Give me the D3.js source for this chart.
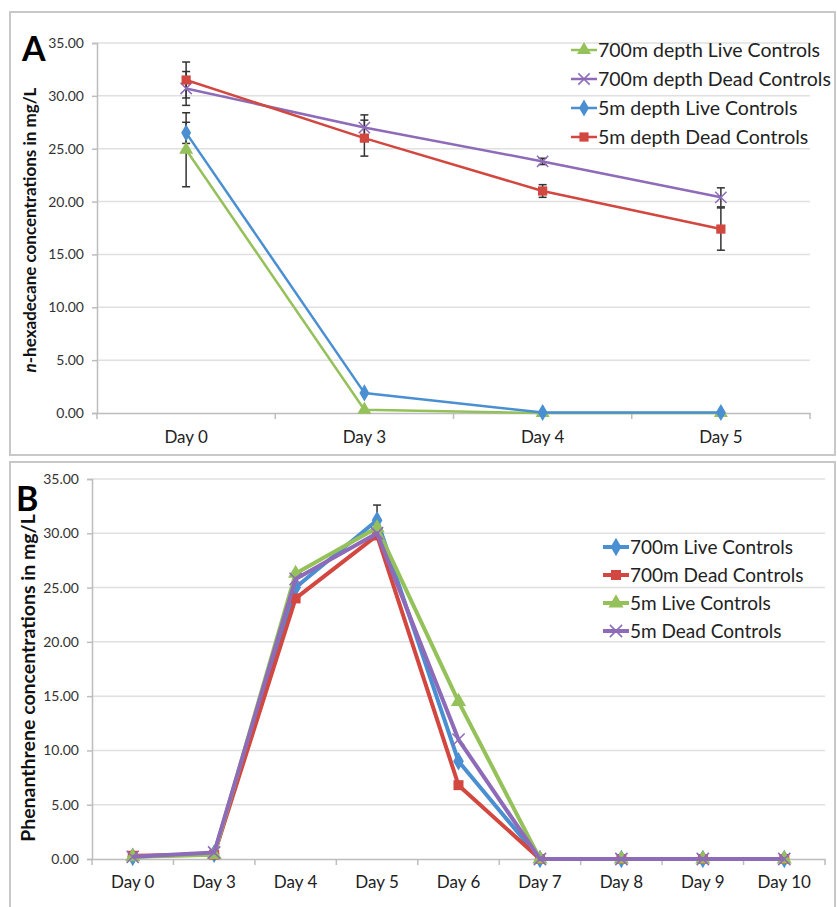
<!DOCTYPE html>
<html>
<head>
  <meta charset="utf-8">
  <script src="https://cdn.jsdelivr.net/npm/d3@7"></script>
  <style>
    body { margin: 0; background: #fff; }
    text { font-family: Lato, "Open Sans", sans-serif; }
  </style>
</head>
<body>
<script>
  // ---- panel A data (n-hexadecane) ----
  var daysA = ["Day 0", "Day 3", "Day 4", "Day 5"];
  var namesA = ["700m depth Live Controls", "700m depth Dead Controls", "5m depth Live Controls", "5m depth Dead Controls"];
  var live700A = [24.9, 0.3, 0.0, 0.0];
  var dead700A = [30.7, 27.0, 23.8, 20.4];
  var live5A = [26.5, 1.9, 0.05, 0.05];
  var dead5A = [31.5, 26.0, 21.0, 17.4];
  var errLive700A = [3.5, 0, 0, 0];
  var errDead700A = [1.6, 1.2, 0.3, 0.9];
  var errLive5A = [1.0, 0, 0, 0];
  var errDead5A = [1.7, 1.7, 0.6, 2.0];

  // ---- panel B data (phenanthrene) ----
  var daysB = ["Day 0", "Day 3", "Day 4", "Day 5", "Day 6", "Day 7", "Day 8", "Day 9", "Day 10"];
  var namesB = ["700m Live Controls", "700m Dead Controls", "5m Live Controls", "5m Dead Controls"];
  var live700B = [0.2, 0.5, 25.0, 31.2, 9.0, 0, 0, 0, 0];
  var dead700B = [0.3, 0.4, 24.0, 29.8, 6.8, 0, 0, 0, 0];
  var live5B = [0.2, 0.4, 26.3, 30.5, 14.5, 0, 0, 0, 0];
  var dead5B = [0.2, 0.6, 25.8, 30.0, 11.0, 0, 0, 0, 0];
  var errLive700B = [0, 0, 0, 1.4, 0, 0, 0, 0, 0];

  var yTicks = [0, 5, 10, 15, 20, 25, 30, 35];

  var colors = { blue: "#4a8fd1", red: "#d2473f", green: "#95c15a", purple: "#8d6bb8" };

  var svg = d3.select("body").append("svg")
      .attr("width", 837)
      .attr("height", 907);

  function symbolFor(kind, size) {
    if (kind == "diamond") return d3.symbol().type(d3.symbolDiamond).size(size)();
    if (kind == "square") return d3.symbol().type(d3.symbolSquare).size(size)();
    if (kind == "triangle") return d3.symbol().type(d3.symbolTriangle).size(size)();
    return d3.symbol().type(d3.symbolX).size(size)();
  }

  function drawPanel(opt) {
    var g = svg.append("g");

    // panel frame
    g.append("rect")
      .attr("x", opt.frame[0]).attr("y", opt.frame[1])
      .attr("width", opt.frame[2]).attr("height", opt.frame[3])
      .attr("fill", "none").attr("stroke", "#c8c8c8").attr("stroke-width", 2);

    var x = d3.scaleBand().domain(opt.days).range([opt.left, opt.right]);
    var y = d3.scaleLinear().domain([0, 35]).range([opt.bottom, opt.top]);

    // gridlines
    g.selectAll(".grid").data(yTicks.slice(1)).enter().append("line")
      .attr("x1", opt.left).attr("x2", opt.right)
      .attr("y1", function(d){ return y(d); }).attr("y2", function(d){ return y(d); })
      .attr("stroke", "#e0e0e0").attr("stroke-width", 1.5);

    // y axis
    var yAxis = g.append("g")
      .attr("transform", "translate(" + opt.left + ",0)")
      .call(d3.axisLeft(y).tickValues(yTicks).tickFormat(d3.format(".2f")).tickSize(5).tickPadding(8));
    yAxis.select(".domain").attr("stroke", "#bdbdbd").attr("stroke-width", 1.5);
    yAxis.selectAll(".tick line").attr("stroke", "#bdbdbd").attr("stroke-width", 1.5);
    yAxis.selectAll("text").attr("font-size", 14).attr("fill", "#333")
      .attr("font-family", "Lato, 'Open Sans', sans-serif");

    // x axis
    var xAxis = g.append("g")
      .attr("transform", "translate(0," + opt.bottom + ")")
      .call(d3.axisBottom(x).tickSize(0).tickPadding(opt.xpad));
    xAxis.select(".domain").attr("stroke", "#bdbdbd").attr("stroke-width", 1.5);
    xAxis.selectAll("text").attr("font-size", 17).attr("fill", "#222")
      .attr("font-family", "Lato, 'Open Sans', sans-serif");
    // tick marks between categories
    var bounds = opt.days.map(function(d){ return x(d); }).concat([opt.right]);
    g.selectAll(".xt").data(bounds).enter().append("line")
      .attr("x1", function(d){ return d; }).attr("x2", function(d){ return d; })
      .attr("y1", opt.bottom).attr("y2", opt.bottom + 6)
      .attr("stroke", "#bdbdbd").attr("stroke-width", 1.5);

    var cx = function(i){ return x(opt.days[i]) + x.bandwidth() / 2; };

    // error bars
    opt.series.forEach(function(s){
      if (!s.err) return;
      s.values.forEach(function(v, i){
        var e = s.err[i];
        if (!e) return;
        g.append("line")
          .attr("x1", cx(i)).attr("x2", cx(i))
          .attr("y1", y(v - e)).attr("y2", y(v + e))
          .attr("stroke", "#333").attr("stroke-width", 1.5);
        [v - e, v + e].forEach(function(w){
          g.append("line")
            .attr("x1", cx(i) - 4).attr("x2", cx(i) + 4)
            .attr("y1", y(w)).attr("y2", y(w))
            .attr("stroke", "#333").attr("stroke-width", 1.5);
        });
      });
    });

    // lines and markers
    opt.series.forEach(function(s){
      var line = d3.line().x(function(d, i){ return cx(i); }).y(function(d){ return y(d); });
      g.append("path").datum(s.values)
        .attr("d", line)
        .attr("fill", "none").attr("stroke", s.color).attr("stroke-width", opt.lw)
        .attr("stroke-linejoin", "round");
      g.selectAll(null).data(s.values).enter().append("path")
        .attr("d", symbolFor(s.shape, opt.ms))
        .attr("transform", function(d, i){ return "translate(" + cx(i) + "," + y(d) + ")"; })
        .attr("fill", s.color)
        .attr("stroke", s.shape == "x" ? s.color : "none")
        .attr("stroke-width", 1.5);
    });

    // legend
    var leg = g.append("g");
    opt.legendOrder.forEach(function(k, j){
      var s = opt.series[k];
      var ly = opt.legend[1] + j * opt.legend[2];
      leg.append("line")
        .attr("x1", opt.legend[0]).attr("x2", opt.legend[0] + 26)
        .attr("y1", ly).attr("y2", ly)
        .attr("stroke", s.color).attr("stroke-width", opt.lw);
      leg.append("path")
        .attr("d", symbolFor(s.shape, opt.ms))
        .attr("transform", "translate(" + (opt.legend[0] + 13) + "," + ly + ")")
        .attr("fill", s.color)
        .attr("stroke", s.shape == "x" ? s.color : "none")
        .attr("stroke-width", 1.5);
      leg.append("text")
        .attr("x", opt.legend[0] + 27).attr("y", ly)
        .attr("dy", "0.35em")
        .attr("font-size", opt.legendFont).attr("fill", "#222")
        .text(s.name);
    });

    // panel letter
    g.append("text")
      .attr("x", opt.letter[0]).attr("y", opt.letter[1])
      .attr("font-size", 34).attr("font-weight", "bold")
      .attr("font-family", "'Liberation Sans', Arial, sans-serif")
      .text(opt.letterText);

    // y title
    var yt = g.append("text")
      .attr("transform", "translate(" + opt.ytitle[0] + "," + opt.ytitle[1] + ") rotate(-90)")
      .attr("text-anchor", "middle")
      .attr("font-size", opt.ytitle[2]).attr("font-weight", "bold").attr("fill", "#111");
    if (opt.italicN) {
      yt.append("tspan").attr("font-style", "italic").text("n");
      yt.append("tspan").text("-hexadecane concentrations in mg/L");
    } else {
      yt.text("Phenanthrene concentrations in mg/L");
    }
  }

  drawPanel({
    frame: [10, 12, 825, 443],
    days: daysA, left: 97, right: 810, top: 43, bottom: 413,
    lw: 2.5, ms: 85, xpad: 18,
    series: [
      { name: namesA[0], values: live700A, err: errLive700A, color: colors.green, shape: "triangle" },
      { name: namesA[1], values: dead700A, err: errDead700A, color: colors.purple, shape: "x" },
      { name: namesA[2], values: live5A, err: errLive5A, color: colors.blue, shape: "diamond" },
      { name: namesA[3], values: dead5A, err: errDead5A, color: colors.red, shape: "square" }
    ],
    legendOrder: [0, 1, 2, 3],
    legend: [571, 50, 29], legendFont: 19.5,
    letter: [22, 61], letterText: "A",
    ytitle: [36, 230, 17], italicN: true
  });

  drawPanel({
    frame: [10, 462, 825, 450],
    days: daysB, left: 92, right: 825, top: 479, bottom: 859,
    lw: 4, ms: 100, xpad: 17,
    series: [
      { name: namesB[0], values: live700B, err: errLive700B, color: colors.blue, shape: "diamond" },
      { name: namesB[1], values: dead700B, err: null, color: colors.red, shape: "square" },
      { name: namesB[2], values: live5B, err: null, color: colors.green, shape: "triangle" },
      { name: namesB[3], values: dead5B, err: null, color: colors.purple, shape: "x" }
    ],
    legendOrder: [0, 1, 2, 3],
    legend: [603, 547, 28], legendFont: 19,
    letter: [16, 511], letterText: "B",
    ytitle: [35, 678, 19.5], italicN: false
  });
</script>
</body>
</html>
